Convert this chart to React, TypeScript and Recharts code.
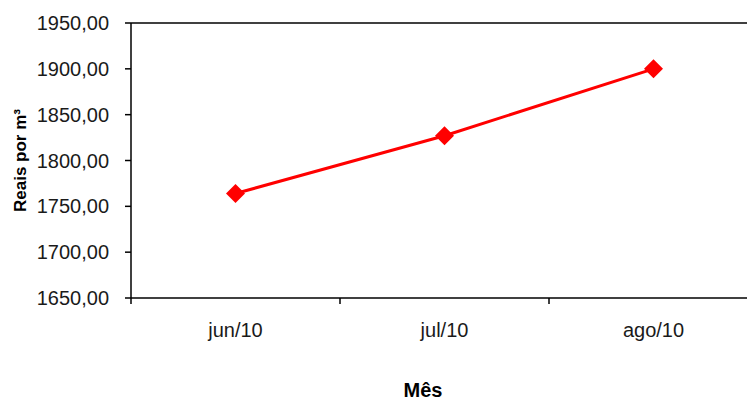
import React from 'react';
import { LineChart, Line, XAxis, YAxis, ReferenceLine } from 'recharts';

const months = ['jun/10', 'jul/10', 'ago/10'];
const prices = [1764, 1827, 1900];
const yTicks = [1650, 1700, 1750, 1800, 1850, 1900, 1950];

// category slots on a numeric axis: boundaries at integers, labels at slot centres
const data = months.map((m, i) => ({ month: m, pos: i + 0.5, price: prices[i] }));
const xTicks: number[] = [];
for (let i = 0; i <= months.length; i++) {
  xTicks.push(i);
  if (i < months.length) xTicks.push(i + 0.5);
}

const fmt = (v: number) => v.toFixed(2).replace('.', ',');

const font = 'Liberation Sans, Arial, sans-serif';

const Diamond = (props: any) => {
  const { cx, cy } = props;
  if (cx == null || cy == null) return null;
  const r = 9.5;
  return (
    <polygon
      points={`${cx},${cy - r} ${cx + r},${cy} ${cx},${cy + r} ${cx - r},${cy}`}
      fill="#ff0000"
      stroke="none"
    />
  );
};

const XTick = (props: any) => {
  const { x, y, payload } = props;
  const v = payload.value as number;
  if (Number.isInteger(v)) {
    return <line x1={x} y1={y} x2={x} y2={y + 6} stroke="#000" strokeWidth={1.5} />;
  }
  const label = months[Math.floor(v)];
  return (
    <text x={x} y={y + 39} textAnchor="middle" fontFamily={font} fontSize={20} fill="#1a1a1a">
      {label}
    </text>
  );
};

export default function App() {
  return (
    <div style={{ position: 'absolute', left: 0, top: 0, width: 747, height: 402, overflow: 'hidden', background: '#fff' }}>
      <LineChart width={760} height={402} data={data} margin={{ top: 23, right: 2, bottom: 0, left: 0 }}>
        <XAxis
          dataKey="pos"
          type="number"
          domain={[0, months.length]}
          ticks={xTicks}
          interval={0}
          height={104}
          tickSize={0}
          tickMargin={0}
          tickLine={false}
          tick={<XTick />}
          axisLine={{ stroke: '#000', strokeWidth: 1.5 }}
          allowDataOverflow
          label={{
            content: () => (
              <text x={423} y={397} textAnchor="middle" fontFamily={font} fontWeight="bold" fontSize={20} fill="#000">
                Mês
              </text>
            ),
          }}
        />
        <YAxis
          domain={[1650, 1950]}
          ticks={yTicks}
          width={131}
          tickSize={6}
          tickMargin={16}
          tickFormatter={fmt}
          axisLine={{ stroke: '#000', strokeWidth: 1.5 }}
          tickLine={{ stroke: '#000', strokeWidth: 1.5 }}
          tick={{ fill: '#1a1a1a', fontSize: 20, fontFamily: font }}
          label={{
            content: (p: any) => {
              const vb = p.viewBox || { y: 23, height: 275 };
              const cy = vb.y + vb.height / 2;
              return (
                <text
                  x={26}
                  y={cy}
                  transform={`rotate(-90 26 ${cy})`}
                  textAnchor="middle"
                  fontFamily={font}
                  fontWeight="bold"
                  fontSize={17}
                  fill="#000"
                >
                  Reais por m³
                </text>
              );
            },
          }}
        />
        <ReferenceLine y={1950} stroke="#000" strokeWidth={1.5} />
        <Line
          dataKey="price"
          stroke="#ff0000"
          strokeWidth={3}
          dot={<Diamond />}
          activeDot={false}
          isAnimationActive={false}
        />
      </LineChart>
    </div>
  );
}
